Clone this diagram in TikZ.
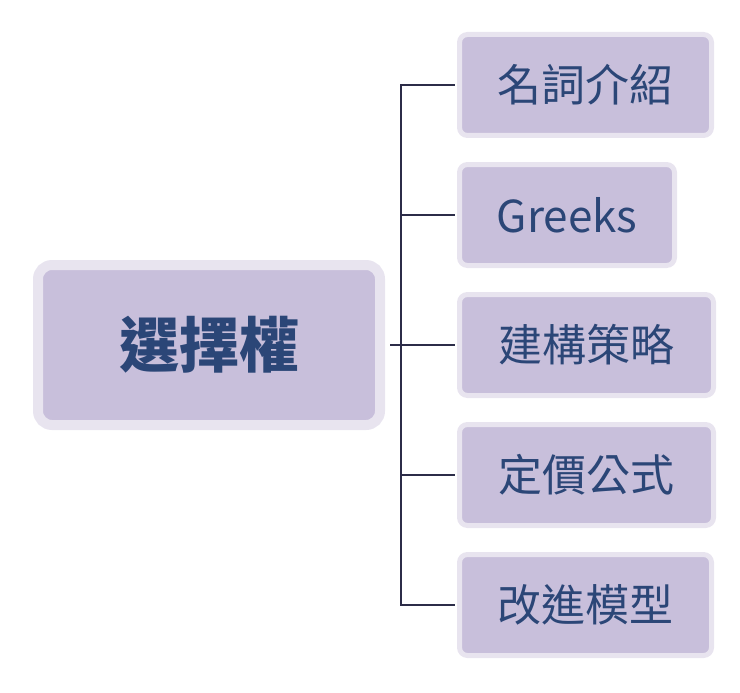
\documentclass[tikz,border=0pt]{standalone}
\usepackage{fontspec}
\setmainfont{Noto Sans CJK TC}
\begin{document}
\begin{tikzpicture}[x=1pt,y=-1pt,
  box/.style={draw=bordc,line width=5pt,fill=fillc,rounded corners=8pt,inner sep=0pt,text=txtc},
  conn/.style={draw=linec,line width=1.6pt}]
\definecolor{fillc}{HTML}{C8BFDB}
\definecolor{bordc}{HTML}{E8E4EF}
\definecolor{txtc}{HTML}{2B4677}
\definecolor{linec}{HTML}{2C2C48}
\useasboundingbox (0,0) rectangle (740,693);
\node[box,line width=10pt,rounded corners=14pt,minimum width=342pt,minimum height=160pt,font=\bfseries\fontsize{60}{60}\selectfont] (root) at (209,345) {選擇權};
\foreach \n/\t/\y/\w in {a/名詞介紹/85/252, b/Greeks/215/215, c/建構策略/345/254, d/定價公式/475/254, e/改進模型/605/252}{
  \node[box,minimum width=\w pt,minimum height=101pt,font=\fontsize{44}{44}\selectfont,anchor=west] (\n) at (457,\y) {\t};
}
\coordinate (j) at (401,345);
\draw[conn] (root.east) ++(5,0) -- (j);
\draw[conn] (a.west) ++(-2.5,0) -| (401,85) -- (401,605) -- ([xshift=-2.5pt]e.west);
\foreach \n in {b,c,d}{\draw[conn] (j |- \n.west) -- ([xshift=-2.5pt]\n.west);}
\end{tikzpicture}
\end{document}
